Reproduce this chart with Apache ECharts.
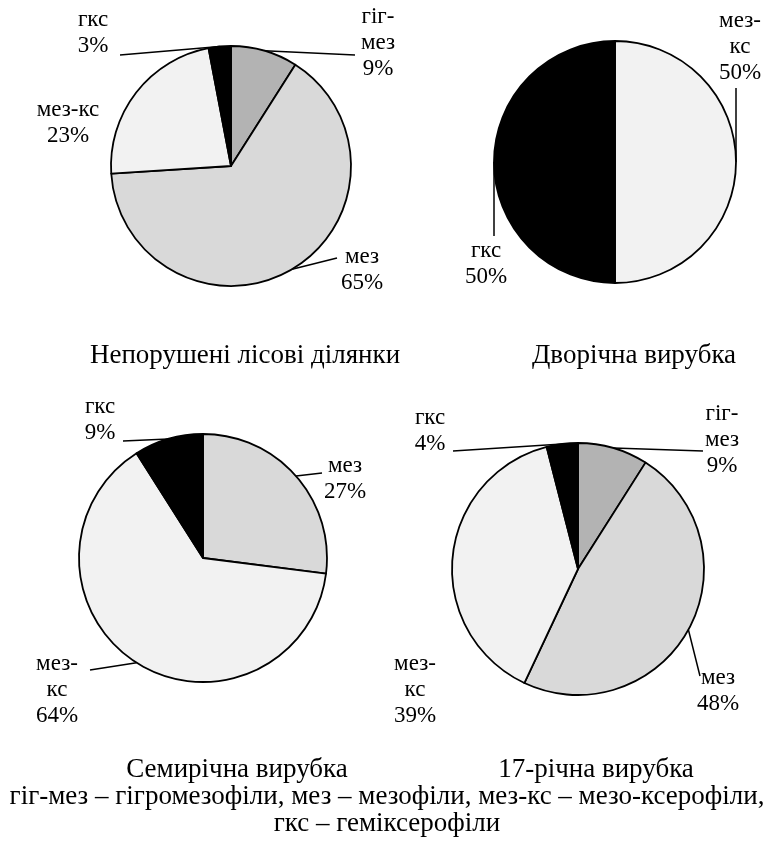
<!DOCTYPE html>
<html>
<head>
<meta charset="utf-8">
<script src="https://cdn.jsdelivr.net/npm/echarts@6/dist/echarts.min.js"></script>
<style>
  html, body { margin: 0; padding: 0; background: #fff; }
  #chart { width: 763px; height: 841px; }
</style>
</head>
<body>
<div id="chart"></div>
<script>
// дані діаграм
const names1 = ['гіг-мез', 'мез', 'мез-кс', 'гкс'];
const labels1 = ['гіг-\nмез', 'мез', 'мез-кс', 'гкс'];
const values1 = [9, 65, 23, 3];

const names2 = ['мез-кс', 'гкс'];
const labels2 = ['мез-\nкс', 'гкс'];
const values2 = [50, 50];

const names3 = ['мез', 'мез-кс', 'гкс'];
const labels3 = ['мез', 'мез-\nкс', 'гкс'];
const values3 = [27, 64, 9];

const names4 = ['гіг-мез', 'мез', 'мез-кс', 'гкс'];
const labels4 = ['гіг-\nмез', 'мез', 'мез-\nкс', 'гкс'];
const values4 = [9, 48, 39, 4];

const titles = ['Непорушені лісові ділянки', 'Дворічна вирубка', 'Семирічна вирубка', '17-річна вирубка'];
const footer = 'гіг-мез – гігромезофіли, мез – мезофіли, мез-кс – мезо-ксерофіли,\nгкс – геміксерофіли';

const colors = {
  'гіг-мез': '#b3b3b3',
  'мез': '#d9d9d9',
  'мез-кс': '#f2f2f2',
  'гкс': '#000000'
};

// розміщення підписів: [x тексту, y тексту, x кінця лінії, y кінця лінії] (null - без лінії)
const labelPos = [
  [[378, 43, 355, 55], [362, 270, 337, 258], [68, 123, null, null], [93, 33, 120, 55]],
  [[740, 47, 736, 88], [486, 264, 494, 236]],
  [[345, 479, 322, 473], [57, 690, 90, 670], [100, 420, 123, 441]],
  [[722, 440, 703, 451], [718, 691, 700, 676], [415, 690, null, null], [430, 431, 453, 451]]
];

const FONT = '"Liberation Serif", "Times New Roman", serif';

function makeData(names, labels, values, pos) {
  let data = [];
  for (let i = 0; i < names.length; i++) {
    data.push({
      name: names[i],
      value: values[i],
      itemStyle: { color: colors[names[i]] },
      label: { formatter: labels[i] + '\n{d}%' },
      labelLine: { show: pos[i][2] != null }
    });
  }
  return data;
}

function pie(idx, center, radius, data) {
  return {
    type: 'pie',
    center: center,
    radius: radius,
    startAngle: 90,
    clockwise: true,
    silent: true,
    animation: false,
    itemStyle: { borderColor: '#000', borderWidth: 1.8 },
    label: {
      show: true,
      color: '#000',
      fontFamily: FONT,
      fontSize: 23,
      lineHeight: 26,
      width: 90,
      align: 'center'
    },
    labelLine: {
      show: true,
      length: 6,
      length2: 30,
      lineStyle: { color: '#000', width: 1.5 }
    },
    labelLayout: function (params) {
      const p = labelPos[idx][params.dataIndex];
      const res = { x: p[0], y: p[1], align: 'center', verticalAlign: 'middle' };
      if (p[2] != null && params.labelLinePoints) {
        res.labelLinePoints = [params.labelLinePoints[0], [p[2], p[3]]];
      }
      return res;
    },
    data: data
  };
}

const titleStyle = { fontFamily: FONT, fontSize: 27, fontWeight: 'normal', color: '#000' };

const chart = echarts.init(document.getElementById('chart'));
chart.setOption({
  backgroundColor: '#fff',
  title: [
    { text: titles[0], left: 240, top: 337, textAlign: 'center', textStyle: titleStyle },
    { text: titles[1], left: 629, top: 337, textAlign: 'center', textStyle: titleStyle },
    { text: titles[2], left: 232, top: 751, textAlign: 'center', textStyle: titleStyle },
    { text: titles[3], left: 591, top: 751, textAlign: 'center', textStyle: titleStyle },
    { text: footer, left: 382, top: 778, textAlign: 'center', textStyle: Object.assign({}, titleStyle, { lineHeight: 27, align: 'center' }) }
  ],
  series: [
    pie(0, [231, 166], 120, makeData(names1, labels1, values1, labelPos[0])),
    pie(1, [615, 162], 121, makeData(names2, labels2, values2, labelPos[1])),
    pie(2, [203, 558], 124, makeData(names3, labels3, values3, labelPos[2])),
    pie(3, [578, 569], 126, makeData(names4, labels4, values4, labelPos[3]))
  ]
});
</script>
</body>
</html>
